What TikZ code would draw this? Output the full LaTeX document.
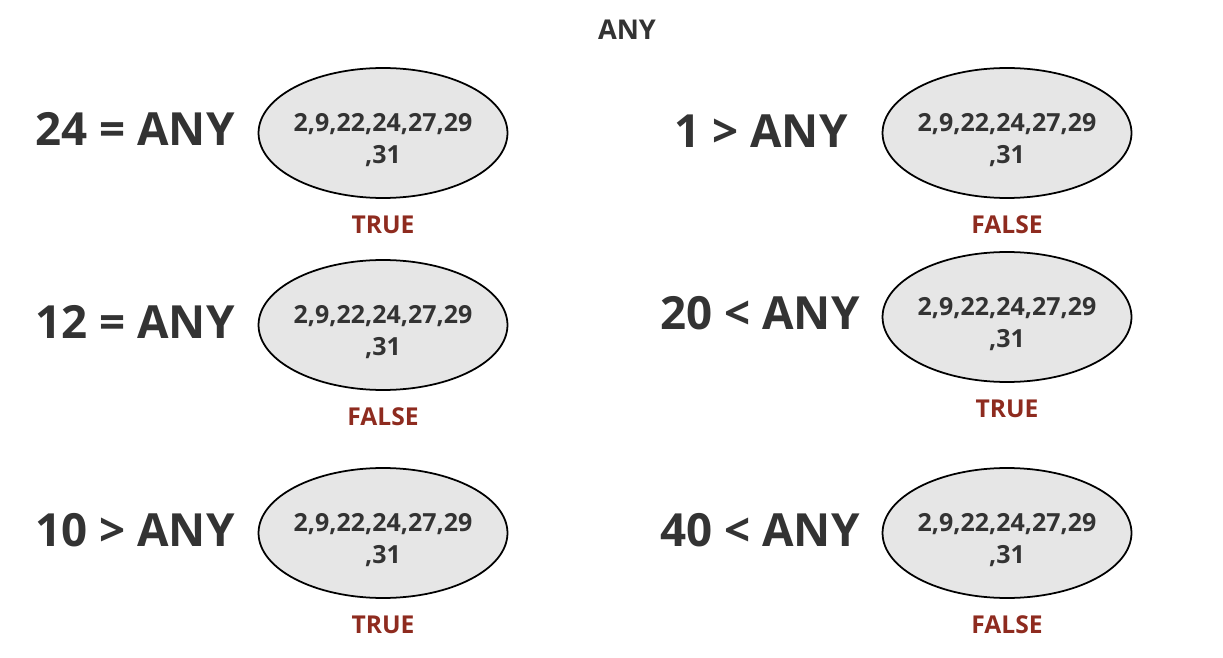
\documentclass[tikz,border=0pt]{standalone}
\usepackage{fontspec}
\setmainfont{Open Sans}
\usepackage{xcolor}
\usetikzlibrary{positioning,shapes.geometric}
\definecolor{inkgray}{HTML}{333333}
\definecolor{verdictred}{HTML}{8E2B1F}
\definecolor{setfill}{HTML}{E6E6E6}

\begin{document}
\begin{tikzpicture}[
    x=0.02cm, y=-0.02cm,
    title/.style={font=\fontsize{15.5}{18}\selectfont\bfseries, text=inkgray, inner sep=0pt},
    cond/.style={font=\fontsize{26}{30}\selectfont\bfseries, text=inkgray, inner sep=0pt},
    setbox/.style={ellipse, draw=black, line width=1pt, fill=setfill,
        minimum width=4.98cm, minimum height=2.6cm, inner xsep=-0.5cm, inner ysep=0pt,
        align=center, text=inkgray, text height=1.3cm,
        font=\fontsize{14.2}{18.2}\selectfont\bfseries},
    verdict/.style={font=\fontsize{14}{16}\selectfont\bfseries, text=verdictred,
        inner sep=0pt, below=0.33cm of #1},
]
\useasboundingbox (0,0) rectangle (1223,658);

\node[title] (head) at (627,30) {ANY};

% left column
\node[setbox] (setA) at (383,133) {2,9,22,24,27,29\\,31};
\node[setbox] (setB) at (383,325) {2,9,22,24,27,29\\,31};
\node[setbox] (setC) at (383,533) {2,9,22,24,27,29\\,31};
\node[cond] (condA) at (135,129) {24 = ANY};
\node[cond] (condB) at (135,322) {12 = ANY};
\node[cond] (condC) at (135,530) {10 > ANY};
\node[verdict=setA] (resA) {TRUE};
\node[verdict=setB] (resB) {FALSE};
\node[verdict=setC] (resC) {TRUE};

% right column
\node[setbox] (setD) at (1007,133) {2,9,22,24,27,29\\,31};
\node[setbox] (setE) at (1007,317) {2,9,22,24,27,29\\,31};
\node[setbox] (setF) at (1007,533) {2,9,22,24,27,29\\,31};
\node[cond] (condD) at (761,131) {1 > ANY};
\node[cond] (condE) at (760,313) {20 < ANY};
\node[cond] (condF) at (760,530) {40 < ANY};
\node[verdict=setD] (resD) {FALSE};
\node[verdict=setE] (resE) {TRUE};
\node[verdict=setF] (resF) {FALSE};
\end{tikzpicture}
\end{document}
